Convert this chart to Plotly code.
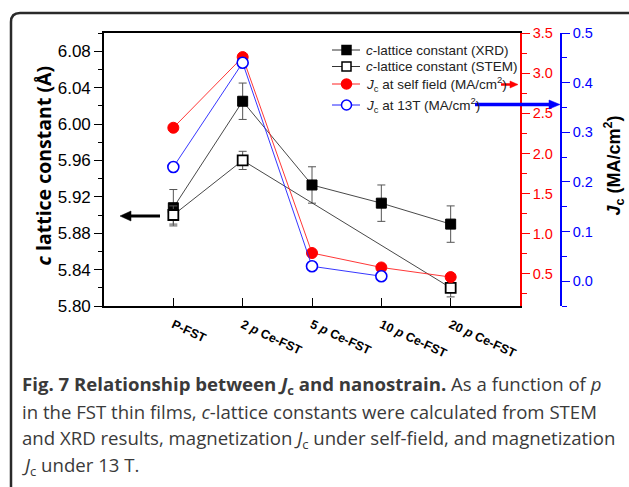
import plotly.graph_objects as go

# ---- data ----
samples = ["P-FST", "2 p Ce-FST", "5 p Ce-FST", "10 p Ce-FST", "20 p Ce-FST"]
sample_labels = ["<b>P-FST</b>", "<b>2 <i>p</i> Ce-FST</b>", "<b>5 <i>p</i> Ce-FST</b>",
                 "<b>10 <i>p</i> Ce-FST</b>", "<b>20 <i>p</i> Ce-FST</b>"]
c_xrd = [5.908, 6.025, 5.933, 5.913, 5.890]
c_xrd_err = [0.02, 0.02, 0.02, 0.02, 0.02]
c_stem = [5.900, 5.960, None, None, 5.820]
c_stem_err = [0.01, 0.01, 0, 0, 0.01]
jc_self = [2.32, 3.20, 0.76, 0.58, 0.46]
jc_13t = [0.23, 0.44, 0.03, 0.01, None]

series_names = [
    "<i>c</i>-lattice constant (XRD)",
    "<i>c</i>-lattice constant (STEM)",
    "<i>J</i><sub>c</sub> at self field (MA/cm<sup>2</sup>)",
    "<i>J</i><sub>c</sub> at 13T (MA/cm<sup>2</sup>)",
]

left_ticks = [5.80, 5.84, 5.88, 5.92, 5.96, 6.00, 6.04, 6.08]

# ---- page geometry (pixels) ----
W, H = 629, 487
L, R, T, B = 104, 68, 33, 181
PW, PH = W - L - R, H - T - B


def px(x):
    return (x - L) / PW


def py(y):
    return (H - B - y) / PH


fig = go.Figure()

line_gray = "#333333"
err_gray = "#555555"
red, blue = "#ff0000", "#0000ff"

fig.add_trace(go.Scatter(
    x=samples, y=c_xrd, mode="lines+markers", name=series_names[0],
    line=dict(color=line_gray, width=0.9),
    marker=dict(symbol="square", size=10, color="black", line=dict(color="black", width=1)),
    error_y=dict(type="data", array=c_xrd_err, color=err_gray, thickness=1, width=4),
    yaxis="y",
))
fig.add_trace(go.Scatter(
    x=samples, y=c_stem, mode="lines+markers", name=series_names[1],
    connectgaps=True,
    line=dict(color=line_gray, width=0.9),
    marker=dict(symbol="square", size=10, color="white", line=dict(color="black", width=1.8)),
    error_y=dict(type="data", array=c_stem_err, color=err_gray, thickness=1, width=4),
    yaxis="y",
))
fig.add_trace(go.Scatter(
    x=samples, y=jc_self, mode="lines+markers", name=series_names[2],
    line=dict(color="#ff2020", width=0.9),
    marker=dict(symbol="circle", size=11, color=red, line=dict(color=red, width=1)),
    yaxis="y2",
))
fig.add_trace(go.Scatter(
    x=samples, y=jc_13t, mode="lines+markers", name=series_names[3],
    line=dict(color="#2020ff", width=0.9),
    marker=dict(symbol="circle", size=11, color="white", line=dict(color=blue, width=1.6)),
    yaxis="y3",
))

x_end = (520 - L) / PW

fig.update_layout(
    width=W, height=H,
    margin=dict(l=L, r=R, t=T, b=B, pad=0),
    paper_bgcolor="white", plot_bgcolor="white",
    font=dict(family="Liberation Sans, Arial", color="black"),
    showlegend=False,
    xaxis=dict(
        domain=[0, x_end], type="category", range=[-1, 5],
        tickvals=samples, ticktext=sample_labels, tickangle=25,
        ticks="inside", ticklen=8, tickwidth=1.2, tickcolor="black",
        showline=True, linecolor="black", linewidth=1.6, mirror=True,
        showgrid=False, zeroline=False,
        tickfont=dict(family="Liberation Sans, Arial", size=12.5, color="black"),
        ticklabelstandoff=5,
    ),
    yaxis=dict(
        range=[5.80, 6.10], tickvals=left_ticks, tickformat=".2f",
        ticks="outside", ticklen=8, tickwidth=1.2, tickcolor="black",
        minor=dict(dtick=0.02, tick0=5.80, ticks="outside", ticklen=4, tickwidth=1.2, tickcolor="black"),
        showline=True, linecolor="black", linewidth=1.6, mirror=False,
        showgrid=False, zeroline=False,
        tickfont=dict(size=17, color="black"),
    ),
    yaxis2=dict(
        overlaying="y", side="right", anchor="x",
        range=[0.1, 3.5], tick0=0.5, dtick=0.5, tickformat=".1f",
        ticks="outside", ticklen=8, tickwidth=1.2, tickcolor=red,
        minor=dict(dtick=0.25, tick0=0.5, ticks="outside", ticklen=5, tickwidth=1.2, tickcolor=red),
        showline=True, linecolor=red, linewidth=1.6,
        showgrid=False, zeroline=False,
        tickfont=dict(size=14.5, color=red),
    ),
    yaxis3=dict(
        overlaying="y", side="right", anchor="free", position=1.0,
        range=[-0.05, 0.5], tick0=0, dtick=0.1, tickformat=".1f",
        ticks="outside", ticklen=8, tickwidth=1.2, tickcolor=blue,
        minor=dict(dtick=0.05, tick0=0, ticks="outside", ticklen=5, tickwidth=1.2, tickcolor=blue),
        showline=True, linecolor=blue, linewidth=1.6,
        showgrid=False, zeroline=False,
        tickfont=dict(size=14.5, color=blue),
    ),
)

annotations = []
shapes = []

# ---- legend block (line sample, marker sample, label) ----
legend_rows = [
    # (row centre y, line colour, marker kind, fill, edge)
    (50, line_gray, "rect", "black", "black"),
    (66.5, line_gray, "rect", "white", "black"),
    (84, "#ff2020", "circle", red, red),
    (105, "#2020ff", "circle", "white", blue),
]
lx0, lx1, mx, tx = 332, 360, 346.5, 364
for (ry, lcol, kind, fill, edge), name in zip(legend_rows, series_names):
    shapes.append(dict(type="line", xref="paper", yref="paper",
                       x0=px(lx0), x1=px(lx1), y0=py(ry), y1=py(ry),
                       line=dict(color=lcol, width=1), layer="above"))
    half = 4.5 if kind == "rect" else 5
    shapes.append(dict(type=kind, xref="paper", yref="paper",
                       x0=px(mx - half), x1=px(mx + half), y0=py(ry + half), y1=py(ry - half),
                       fillcolor=fill, line=dict(color=edge, width=1.5), layer="above"))
    annotations.append(dict(
        x=px(tx), y=py(ry), xref="paper", yref="paper", showarrow=False,
        xanchor="left", yanchor="middle", text=name,
        font=dict(family="Liberation Sans, Arial", size=13.5, color="#222222"),
    ))

# axis titles
annotations.append(dict(
    x=px(27), y=py(166), xref="paper", yref="paper", showarrow=False, textangle=-90,
    text="<b><i>c</i> lattice constant (Å)</b>",
    font=dict(family="Open Sans", size=19.5, color="black"),
))
annotations.append(dict(
    x=px(628), y=py(166), xref="paper", yref="paper", showarrow=False, textangle=-90,
    xanchor="right",
    text="<b><i>J</i><sub>c</sub> (MA/cm<sup>2</sup>)</b>",
    font=dict(family="Liberation Sans, Arial", size=18, color="black"),
))

# arrows pointing each series to its axis: straight shaft plus a filled triangular head
arrows = [
    # (tip_x, tail_x, y, shaft width, head length, head half-height, colour)
    (120, 160, 216, 3, 11, 5, "black"),
    (518, 501, 84.5, 2.5, 8, 3.5, red),
    (560, 475, 104.5, 3.5, 11, 4.5, blue),
]
for hx, tx_, yy, w, hl, hh, col in arrows:
    d = 1 if hx > tx_ else -1
    base = hx - d * hl
    shapes.append(dict(type="line", xref="paper", yref="paper",
                       x0=px(tx_), x1=px(base + d * 1), y0=py(yy), y1=py(yy),
                       line=dict(color=col, width=w), layer="above"))
    head = (f"M {px(hx)} {py(yy)} L {px(base)} {py(yy - hh)} "
            f"L {px(base)} {py(yy + hh)} Z")
    shapes.append(dict(type="path", path=head, xref="paper", yref="paper",
                       fillcolor=col, line=dict(color=col, width=0.5), layer="above"))

# figure caption
caption_lines = [
    "<b>Fig. 7 Relationship between <i>J</i><sub>c</sub> and nanostrain.</b>"
    "<span style='color:#3a3a3a'> As a function of <i>p</i></span>",
    "in the FST thin films, <i>c</i>-lattice constants were calculated from STEM",
    "and XRD results, magnetization <i>J</i><sub>c</sub> under self-field, and magnetization",
    "<i>J</i><sub>c</sub> under 13 T.",
]
caption_y = [385, 411.5, 438.5, 466]
for text, yy in zip(caption_lines, caption_y):
    annotations.append(dict(
        x=px(20), y=py(yy), xref="paper", yref="paper", showarrow=False,
        xanchor="left", yanchor="middle", text=text,
        font=dict(family="Open Sans", size=18.6, color="#3a3a3a"),
    ))

# rounded frame around the figure
rad = 9
frame_path = (
    f"M {px(11)} {py(495)} L {px(11)} {py(13 + rad)} "
    f"Q {px(11)} {py(13)} {px(11 + rad)} {py(13)} L {px(640)} {py(13)}"
)
shapes.append(dict(type="path", path=frame_path, xref="paper", yref="paper",
                   line=dict(color="#2a2a2a", width=2.5), layer="below"))

fig.update_layout(annotations=annotations, shapes=shapes)

fig.write_html("out.html")
